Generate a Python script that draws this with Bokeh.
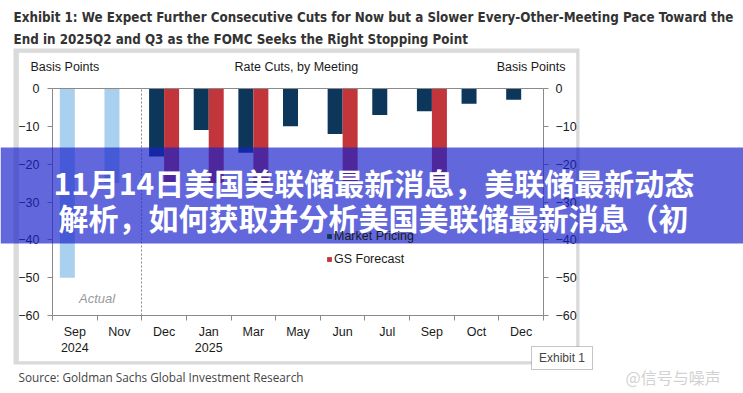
from bokeh.plotting import figure
from bokeh.models import (ColumnDataSource, Range1d, LinearAxis, FixedTicker,
                          Label, BoxAnnotation, Legend, LegendItem)
from bokeh.transform import dodge
from bokeh.embed import file_html
from bokeh.resources import INLINE

# ---------------- data ----------------
meetings = ["Sep\n2024", "Nov", "Dec", "Jan\n2025", "Mar", "May", "Jun", "Jul", "Sep", "Oct", "Dec"]
actual_bp = [-50, -25, None, None, None, None, None, None, None, None, None]
market_bp = [None, None, -18, -11, -17, -10, -12, -7, -6, -4, -3]
gs_bp = [None, None, -25, -25, -25, None, -25, None, -25, None, None]
y_ticks = [0, -10, -20, -30, -40, -50, -60]

title_lines = ["Exhibit 1: We Expect Further Consecutive Cuts for Now but a Slower Every-Other-Meeting Pace Toward the",
               "End in 2025Q2 and Q3 as the FOMC Seeks the Right Stopping Point"]
banner_lines = ["11月14日美国美联储最新消息，美联储最新动态",
                "解析，如何获取并分析美国美联储最新消息（初"]

# ---------------- layout (whole canvas is the frame) ----------------
W, H = 743, 393
PL, PR, PT, PB = 52, 543, 88, 315            # pixel box of the bar area
N = len(meetings)
SX = (PR - PL) / N                              # px per category
SY = (PB - PT) / 60.0                           # px per basis point


def X(px):
    return -0.5 + (px - PL) / SX


def Y(py):
    return -(py - PT) / SY


p = figure(width=W, height=H, x_range=Range1d(X(0), X(W)), y_range=Range1d(Y(H), Y(0)),
           output_backend="svg", toolbar_location=None,
           x_axis_type=None, y_axis_type=None,
           min_border=0, min_border_left=0, min_border_right=0, min_border_top=0, min_border_bottom=0)
p.outline_line_color = None
p.background_fill_color = "white"
p.border_fill_color = "white"

AX = "#8a8a8a"
TICK_FONT = "Liberation Sans"
idx = list(range(N))

# chart box + shadow
p.add_layout(BoxAnnotation(left=X(13), right=X(579), top=Y(48), bottom=Y(364),
                           fill_color="#dadada", fill_alpha=1, line_color=None, level="underlay"))
p.add_layout(BoxAnnotation(left=X(18), right=X(576), top=Y(52), bottom=Y(361),
                           fill_color="white", fill_alpha=1, line_color="#c4c4c4", level="underlay"))


def yaxis(loc, standoff):
    return LinearAxis(fixed_location=loc, bounds=(-60, 0),
                      ticker=FixedTicker(ticks=y_ticks), major_tick_in=0, major_tick_out=5,
                      minor_tick_line_color=None, axis_line_color=AX, major_tick_line_color=AX,
                      major_label_text_font=TICK_FONT, major_label_text_font_size="12.5px",
                      major_label_text_color="#1a1a1a", major_label_standoff=standoff)


p.add_layout(yaxis(-0.5, 8), "left")
p.add_layout(yaxis(N - 0.5, 7), "right")

xa = LinearAxis(fixed_location=-60, bounds=(-0.5, N - 0.5),
                ticker=FixedTicker(ticks=idx, minor_ticks=[i - 0.5 for i in range(N + 1)]),
                major_label_overrides={i: m for i, m in enumerate(meetings)},
                major_tick_in=0, major_tick_out=5, major_tick_line_color=None,
                minor_tick_in=0, minor_tick_out=5, minor_tick_line_color=AX,
                axis_line_color=AX, major_label_standoff=4,
                major_label_text_font=TICK_FONT, major_label_text_font_size="12.5px",
                major_label_text_color="#1a1a1a")
p.add_layout(xa, "below")

# zero line on top and dashed divider between actual and expected meetings
p.add_layout(LinearAxis(fixed_location=0, bounds=(-0.5, N - 0.5), ticker=FixedTicker(ticks=[]),
                        axis_line_color=AX, major_tick_line_color=None, minor_tick_line_color=None),
             "above")
p.add_layout(LinearAxis(fixed_location=1.5, bounds=(-60, 0), ticker=FixedTicker(ticks=[]),
                        axis_line_color="#8a8a8a", axis_line_dash="2 2",
                        major_tick_line_color=None, minor_tick_line_color=None),
             "left")


def pts(xs, vals):
    xx = [x for x, v in zip(xs, vals) if v is not None]
    vv = [v for v in vals if v is not None]
    return ColumnDataSource(dict(x=xx, v=vv))


BW, OFF = 0.336, 0.168
p.vbar(x=dodge("x", -OFF, range=p.x_range), top="v", bottom=0, width=BW,
       source=pts(idx, actual_bp), fill_color="#a9d0ef", line_color=None)
r_mkt = p.vbar(x=dodge("x", -OFF, range=p.x_range), top="v", bottom=0, width=BW,
               source=pts(idx, market_bp), fill_color="#0d375a", line_color=None)
r_gs = p.vbar(x=dodge("x", OFF, range=p.x_range), top="v", bottom=0, width=BW,
              source=pts(idx, gs_bp), fill_color="#c2353a", line_color=None)

legend = Legend(items=[LegendItem(label="Market Pricing", renderers=[r_mkt]),
                       LegendItem(label="GS Forecast", renderers=[r_gs])],
                location=(326, 127), padding=0, margin=0, spacing=8,
                glyph_width=6, glyph_height=6, label_standoff=2, label_height=15,
                label_text_font=TICK_FONT, label_text_font_size="12.5px", label_text_color="#1a1a1a",
                border_line_color=None, background_fill_alpha=0)
p.add_layout(legend)


def label(px, py, text, size, color, font=TICK_FONT, align="left", style="normal", level="annotation"):
    p.add_layout(Label(x=X(px), y=Y(py), text=text, text_font=font, text_font_size=size,
                       text_color=color, text_align=align, text_baseline="middle",
                       text_font_style=style, level=level))


# headers inside chart box
label(30, 66, "Basis Points", "12.5px", "#1a1a1a")
label(234, 66, "Rate Cuts, by Meeting", "12.5px", "#1a1a1a")
label(565, 66, "Basis Points", "12.5px", "#1a1a1a", align="right")
p.add_layout(Label(x=0.5, y=-55.5, text="Actual", text_font=TICK_FONT, text_font_size="13px",
                   text_color="#9a9a9a", text_font_style="italic", text_align="center",
                   text_baseline="middle"))

# title
label(13, 17, title_lines[0], "13.3px", "#333333", font="DejaVu Sans Condensed", style="bold")
label(13, 39, title_lines[1], "13.3px", "#333333", font="DejaVu Sans Condensed", style="bold")

# exhibit tag + source + watermark
p.add_layout(BoxAnnotation(left=X(531), right=X(592), top=Y(346), bottom=Y(369),
                           fill_color="white", fill_alpha=1, line_color="#404040", line_width=1))
label(561.5, 357.5, "Exhibit 1", "12px", "#444444", align="center")
label(18, 376, "Source: Goldman Sachs Global Investment Research", "11.75px", "#444444", font="Open Sans")
label(625, 376, "@信号与噪声", "16px", "#d2d2d2", font="Noto Sans CJK SC")

# banner overlay
p.add_layout(BoxAnnotation(left=X(0), right=X(W), top=Y(147), bottom=Y(243),
                           fill_color="#1721cb", fill_alpha=0.68, line_color=None, level="overlay"))
label(53, 181, banner_lines[0], "30px", "white", font="Noto Sans CJK SC", style="bold", level="overlay")
label(58, 216, banner_lines[1], "30px", "white", font="Noto Sans CJK SC", style="bold", level="overlay")

open("out.html", "w").write(file_html(p, INLINE))
